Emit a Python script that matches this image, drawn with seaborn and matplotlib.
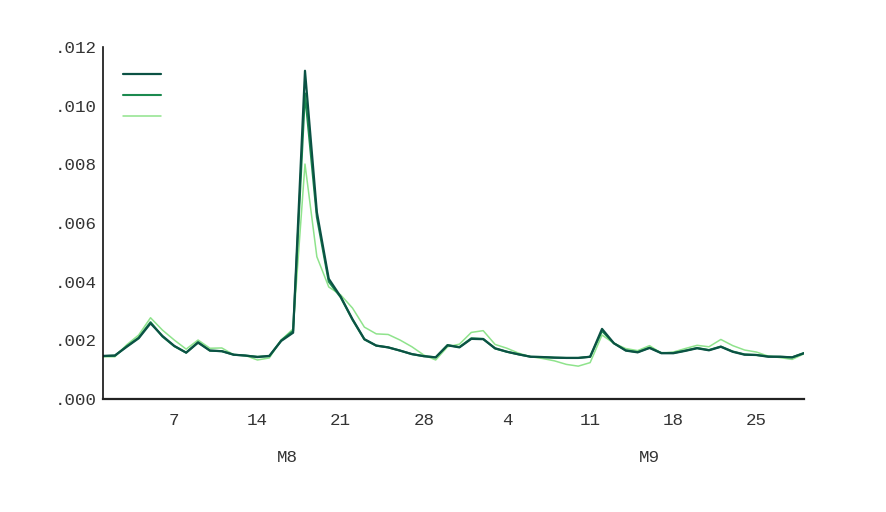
import matplotlib
matplotlib.use("Agg")
import matplotlib.pyplot as plt
from matplotlib.lines import Line2D
import seaborn as sns
import pandas as pd

dates = pd.date_range("2023-08-01", "2023-09-29", freq="D")

series_a = [0.00147, 0.00148, 0.00178, 0.00207, 0.00258, 0.00215, 0.00181, 0.00158, 0.00192, 0.00165,
            0.00163, 0.00151, 0.00148, 0.00143, 0.00147, 0.00198, 0.00226, 0.01119, 0.00637, 0.00410,
            0.00349, 0.00272, 0.00204, 0.00182, 0.00176, 0.00165, 0.00153, 0.00146, 0.00142, 0.00183,
            0.00176, 0.00205, 0.00204, 0.00173, 0.00161, 0.00152, 0.00144, 0.00143, 0.00141, 0.00140,
            0.00140, 0.00144, 0.00239, 0.00190, 0.00165, 0.00159, 0.00174, 0.00156, 0.00156, 0.00164,
            0.00173, 0.00166, 0.00178, 0.00161, 0.00151, 0.00150, 0.00144, 0.00144, 0.00142, 0.00156]

series_b = [0.00146, 0.00148, 0.00180, 0.00209, 0.00262, 0.00213, 0.00180, 0.00158, 0.00194, 0.00165,
            0.00163, 0.00151, 0.00148, 0.00144, 0.00146, 0.00200, 0.00232, 0.01042, 0.00620, 0.00400,
            0.00347, 0.00270, 0.00203, 0.00182, 0.00176, 0.00165, 0.00153, 0.00146, 0.00142, 0.00184,
            0.00177, 0.00207, 0.00205, 0.00172, 0.00161, 0.00152, 0.00144, 0.00143, 0.00141, 0.00140,
            0.00140, 0.00144, 0.00232, 0.00190, 0.00166, 0.00160, 0.00175, 0.00157, 0.00157, 0.00165,
            0.00174, 0.00167, 0.00179, 0.00162, 0.00152, 0.00150, 0.00145, 0.00144, 0.00142, 0.00157]

series_c = [0.00144, 0.00144, 0.00185, 0.00218, 0.00277, 0.00235, 0.00201, 0.00170, 0.00201, 0.00173,
            0.00174, 0.00151, 0.00148, 0.00133, 0.00140, 0.00201, 0.00239, 0.00801, 0.00485, 0.00382,
            0.00355, 0.00310, 0.00245, 0.00222, 0.00220, 0.00201, 0.00178, 0.00150, 0.00133, 0.00178,
            0.00187, 0.00227, 0.00233, 0.00186, 0.00173, 0.00156, 0.00144, 0.00138, 0.00130, 0.00118,
            0.00112, 0.00124, 0.00218, 0.00190, 0.00172, 0.00165, 0.00182, 0.00156, 0.00160, 0.00172,
            0.00183, 0.00178, 0.00203, 0.00182, 0.00167, 0.00160, 0.00146, 0.00141, 0.00135, 0.00154]

series_labels = [" ", " ", " "]
colors = ["#0b5244", "#1b8a4f", "#8fe38c"]
widths = [1.6, 1.5, 1.1]

y_ticks = [0.000, 0.002, 0.004, 0.006, 0.008, 0.010, 0.012]
x_tick_dates = ["2023-08-07", "2023-08-14", "2023-08-21", "2023-08-28",
                "2023-09-04", "2023-09-11", "2023-09-18", "2023-09-25"]
month_starts = ["2023-08-01", "2023-09-01", "2023-10-01"]
month_labels = ["M8", "M9"]

sns.set_style("white")
plt.rcParams["font.family"] = ["Liberation Mono", "DejaVu Sans Mono"]

fig = plt.figure(figsize=(8.87, 5.12), dpi=100)
ax = fig.add_axes([103 / 887, 1 - 399 / 512, (804 - 103) / 887, (399 - 47) / 512])

for vals, col, lw in zip([series_c, series_b, series_a], colors[::-1], widths[::-1]):
    df = pd.DataFrame({"date": dates, "value": vals})
    sns.lineplot(data=df, x="date", y="value", ax=ax, color=col, linewidth=lw)
handles = [Line2D([0], [0], color=col, linewidth=lw) for col, lw in zip(colors, widths)]

ax.set_xlim(dates[0], dates[-1])
ax.set_ylim(0, 0.012)
ax.set_xlabel("")
ax.set_ylabel("")

ax.set_yticks(y_ticks)
ax.set_yticklabels([f"{v:.3f}".lstrip("0") for v in y_ticks])
ax.set_xticks(pd.to_datetime(x_tick_dates))
ax.set_xticklabels([str(pd.Timestamp(d).day) for d in x_tick_dates])
ax.set_xticks(pd.to_datetime(month_starts[:-1]), minor=True)

txt_color = "#333333"
ax.tick_params(axis="y", length=4.3, width=1, color="#222222", pad=0, labelsize=12.6, labelcolor=txt_color)
ax.tick_params(axis="x", which="major", length=4, width=1.2, color="#888888", pad=6, labelsize=12.6, labelcolor=txt_color)
ax.tick_params(axis="x", which="minor", length=6, width=1.5, color="#777777")

for s in ["top", "right"]:
    ax.spines[s].set_visible(False)
ax.spines["left"].set_color("#111111")
ax.spines["left"].set_linewidth(1.2)
ax.spines["bottom"].set_color("#222222")
ax.spines["bottom"].set_linewidth(1.6)

trans = matplotlib.transforms.blended_transform_factory(ax.transData, fig.transFigure)
ms = pd.to_datetime(month_starts)
for i, lab in enumerate(month_labels):
    mid = ms[i] + (ms[i + 1] - ms[i]) / 2
    ax.text(mid, 1 - 458 / 512, lab, transform=trans, ha="center", va="center",
            fontsize=12.6, color=txt_color)

ax.legend(handles, series_labels, loc="upper left", bbox_to_anchor=(0.0065, 0.986),
          frameon=False, handlelength=2.17, labelspacing=0.32, handletextpad=0.2, fontsize=12.6)

fig.savefig("out.png", dpi=100)
